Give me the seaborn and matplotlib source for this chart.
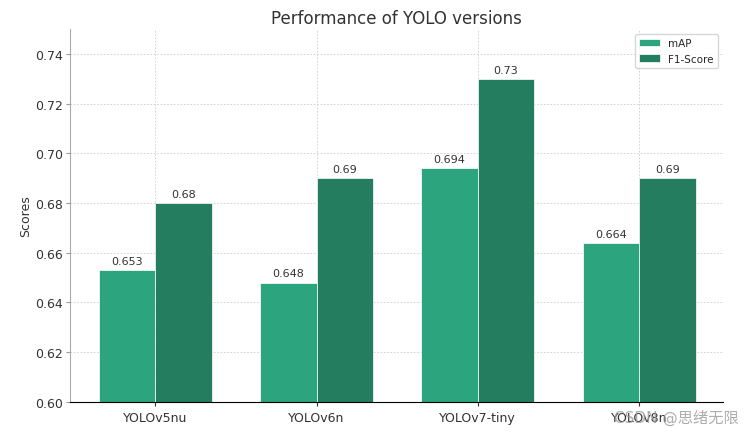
import matplotlib
matplotlib.use("Agg")
import matplotlib.pyplot as plt
import seaborn as sns
import pandas as pd

models = ["YOLOv5nu", "YOLOv6n", "YOLOv7-tiny", "YOLOv8n"]
map_scores = [0.653, 0.648, 0.694, 0.664]
f1_scores = [0.68, 0.69, 0.73, 0.69]
map_labels = ["0.653", "0.648", "0.694", "0.664"]
f1_labels = ["0.68", "0.69", "0.73", "0.69"]

df = pd.DataFrame({
    "Model": models * 2,
    "Score": map_scores + f1_scores,
    "Metric": ["mAP"] * 4 + ["F1-Score"] * 4,
})

sns.set_style("white")
plt.rcParams["font.family"] = ["DejaVu Sans", "Noto Sans CJK SC"]

fig = plt.figure(figsize=(7.5, 4.35), dpi=100)
ax = fig.add_axes([0.093, 0.074, 0.871, 0.857])

sns.barplot(data=df, x="Model", y="Score", hue="Metric", ax=ax,
            palette=["#2ca47e", "#257d60"], width=0.7, saturation=1,
            edgecolor="white", linewidth=0.5)

ax.set_axisbelow(True)
ax.grid(True, axis="both", linestyle=(0, (2, 2)), linewidth=0.6, color="#cccccc")

for cont, labels in zip(ax.containers, [map_labels, f1_labels]):
    ax.bar_label(cont, labels=labels, padding=3, fontsize=8, color="#333333")

ax.set_ylim(0.60, 0.75)
ax.set_xlim(-0.53, 3.52)
ax.set_yticks([0.60, 0.62, 0.64, 0.66, 0.68, 0.70, 0.72, 0.74])
ax.set_yticklabels(["0.60", "0.62", "0.64", "0.66", "0.68", "0.70", "0.72", "0.74"])
ax.set_xlabel("")
ax.set_ylabel("Scores", fontsize=9, color="#333333", labelpad=2)
ax.set_title("Performance of YOLO versions", fontsize=12, color="#333333", pad=4)
ax.tick_params(axis="both", labelsize=9, colors="#333333", length=3, left=True, bottom=True)
ax.tick_params(axis="y", color="#999999", pad=2)
ax.spines["top"].set_visible(False)
ax.spines["right"].set_visible(False)
ax.spines["left"].set_color("#aaaaaa")
ax.spines["bottom"].set_color("#000000")

leg = ax.legend(loc="upper right", fontsize=7.5, frameon=True, title=None)
leg.get_frame().set_edgecolor("#cccccc")

fig.text(0.985, 0.04, "CSDN @思绪无限", ha="right", va="center", fontsize=11,
         color="#999999", alpha=0.8)

fig.savefig("out.png", dpi=100)
